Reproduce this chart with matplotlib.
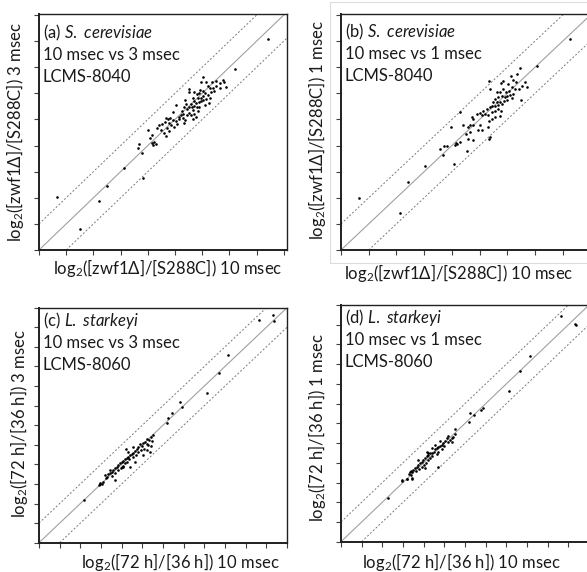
import matplotlib
matplotlib.use('Agg')
import matplotlib.pyplot as plt
from matplotlib import transforms

plt.rcParams['font.family'] = ['Lato', 'DejaVu Sans']
plt.rcParams['mathtext.fontset'] = 'custom'
plt.rcParams['mathtext.rm'] = 'Lato'
plt.rcParams['mathtext.it'] = 'Lato:italic'

# (a) S. cerevisiae, 10 msec vs 3 msec
a_x = [1.19, 0.49, 0.37, 0.76, 0.82, 0.67, 0.86, 0.66, 0.02, -0.04, 0.14, 0.20, 0.27, 0.41, 0.45,
       0.33, 0.51, -0.47, -0.50, -0.29, -0.20, -0.13, -0.08, 0.04, 0.12, 0.20, 0.04, -0.04, -0.17,
       -0.35, -0.29, -0.23, -0.13, -0.04, 0.02, 0.14, 0.27, 0.24, 0.12, -0.41, -0.47, -0.54, -0.38,
       -0.29, -0.20, -0.10, -0.35, -0.17, -0.62, -0.60, -0.66, -0.75, -0.70, -0.78, -0.84, -0.87,
       -0.72, -0.62, -0.54, -0.47, -0.41, -0.29, -0.23, -0.35, -0.66, -0.97, -1.09, -1.19, -1.24,
       -1.09, -0.97, -0.91, -1.03, -1.15, -1.22, -1.34, -1.36, -1.46, -1.28, -1.22, -1.40, -1.34,
       -1.52, -1.65, -1.59, -1.83, -1.93, -1.77, -1.71, -1.81, -1.86, -1.98, -2.33, -2.35, -2.23,
       2.43, -5.32, -4.48, -3.80, -3.51, -2.87, -2.19]
a_y = [0.94, 0.48, 0.43, 0.52, 0.43, 0.22, 0.26, 0.39, 0.64, 0.45, 0.43, 0.30, 0.20, 0.20, 0.09,
       0.04, 0.30, 0.17, 0.07, 0.07, -0.03, 0.00, 0.13, 0.09, 0.00, -0.06, -0.12, -0.19, -0.19,
       -0.19, -0.29, -0.38, -0.34, -0.31, -0.25, -0.21, -0.19, -0.38, -0.44, -0.42, -0.51, -0.60,
       -0.54, -0.47, -0.51, -0.51, -0.63, -0.67, -0.25, -0.42, -0.54, -0.67, -0.80, -0.83, -0.89,
       -0.98, -0.95, -1.02, -0.83, -0.76, -0.83, -0.80, -0.89, -0.98, -1.15, -0.44, -0.70, -0.93,
       -0.98, -1.02, -1.06, -1.18, -1.27, -1.21, -1.15, -0.95, -1.08, -1.18, -1.34, -1.46, -1.53,
       -1.62, -1.40, -1.34, -1.23, -1.59, -1.72, -1.87, -1.95, -1.98, -1.92, -1.40, -1.95, -2.08,
       -2.29, 2.09, -3.96, -5.21, -4.11, -3.53, -2.84, -3.25]

# (b) S. cerevisiae, 10 msec vs 1 msec
b_x = [1.08, 0.46, 0.36, 0.13, 0.19, 0.31, -0.14, -0.24, 0.04, 0.64, 0.70, 0.52, 0.44, 0.28, 0.16,
       0.07, -0.05, -0.17, -0.26, -0.38, -0.65, -0.62, 0.22, 0.10, 0.00, -0.08, -0.20, -0.32, -0.44,
       -0.50, -0.38, -0.26, -0.12, -0.02, 0.48, 0.16, -0.56, -0.44, -0.32, -0.20, -0.62, -0.74,
       -0.86, -0.98, -0.92, -0.80, -0.68, -0.56, -0.44, -0.32, -0.23, -0.65, -0.56, -1.23, -1.29,
       -1.11, -1.71, -0.92, -0.26, -0.44, -0.68, -0.62, -0.65, -0.98, -1.05, -1.35, -1.41, -1.59,
       -1.23, -1.35, -1.49, -1.71, -1.80, -1.89, -1.85, -2.04, -2.16, -2.28, -2.43, -1.41, -1.25,
       -1.47, -2.33, -1.92, -5.36, -3.88, -3.59, -2.96, 2.28]
b_y = [1.03, 0.99, 0.74, 0.65, 0.52, 0.45, 0.49, 0.40, 0.36, 0.42, 0.23, 0.27, 0.17, 0.17, 0.23,
       0.10, 0.07, 0.17, 0.07, 0.04, 0.49, 0.17, -0.02, -0.06, -0.09, -0.15, -0.09, -0.15, -0.21,
       -0.34, -0.34, -0.32, -0.28, -0.24, -0.24, -0.19, -0.47, -0.47, -0.44, -0.40, -0.53, -0.60,
       -0.66, -0.75, -0.82, -0.79, -0.82, -0.72, -0.66, -0.60, -0.66, -1.04, -0.98, -0.98, -0.91,
       -0.79, -0.72, -1.42, -0.85, -0.91, -1.30, -1.68, -1.74, -1.23, -1.42, -1.23, -1.30, -1.23,
       -1.23, -1.49, -1.55, -1.87, -1.93, -1.97, -1.89, -1.30, -2.00, -2.00, -2.12, -1.74, -1.77,
       -2.19, -2.38, -2.69, -4.00, -4.58, -3.39, -2.78, 2.08]

# (c) L. starkeyi, 10 msec vs 3 msec
c_x = [-0.47, -0.58, -0.66, -0.55, -0.76, -0.87, -0.79, -0.95, -0.71, -0.59, -1.03, -1.11, -1.19,
       -0.92, -1.08, -1.27, -1.35, -1.43, -1.19, -1.51, -1.30, -1.59, -1.68, -1.47, -1.76, -1.84,
       -1.63, -1.92, -2.00, -1.72, -2.08, -1.84, -2.16, -1.95, -2.24, -2.05, -2.32, -2.40, -2.16,
       -2.48, -2.56, -2.32, -2.64, -2.69, -2.48, -2.76, -2.80, -2.88, -3.05, -2.32, -1.80, -1.68,
       -1.35, -1.59, -1.92, -0.95, -0.63, -0.79, -1.47, -2.00, -2.56, -2.97, -3.08,
       5.34, 4.66, 5.39, 3.16, 2.69, 2.11, 0.82, 0.90, 0.42, 0.22, 0.17, -3.81, -3.05]
c_y = [-0.51, -0.62, -0.76, -0.79, -0.73, -0.85, -0.96, -0.93, -1.02, -1.07, -1.07, -0.96, -1.13,
       -1.19, -1.27, -1.24, -1.30, -1.41, -1.36, -1.47, -1.53, -1.53, -1.61, -1.64, -1.70, -1.75,
       -1.75, -1.81, -1.87, -1.87, -1.95, -1.95, -2.04, -2.09, -2.12, -2.21, -2.21, -2.29, -2.29,
       -2.38, -2.46, -2.43, -2.50, -2.63, -2.60, -2.72, -2.55, -2.89, -2.97, -2.80, -1.19, -1.36,
       -1.87, -2.12, -2.12, -1.53, -1.36, -1.27, -1.10, -2.12, -2.29, -3.01, -3.06,
       5.62, 5.36, 5.33, 3.58, 2.69, 1.62, 1.16, 0.91, 0.64, 0.38, 0.09, -3.82, -3.02]

# (d) L. starkeyi, 10 msec vs 1 msec
d_x = [-0.49, -0.57, -0.65, -0.81, -0.89, -0.73, -0.97, -0.84, -1.05, -0.62, -1.13, -1.21, -1.00,
       -1.29, -1.37, -1.13, -1.45, -1.49, -1.29, -1.58, -1.70, -1.37, -1.78, -1.62, -1.86, -1.45,
       -1.94, -1.70, -2.02, -1.81, -2.10, -1.91, -2.18, -1.97, -2.26, -2.34, -2.10, -2.42, -2.23,
       -1.94, -2.29, -2.50, -2.39, -2.58, -2.66, -2.62, -2.71, -2.83, -3.04, -2.55, -1.78, -1.21,
       -1.32, -1.86, -1.62,
       4.66, 5.31, 5.37, 3.13, 2.68, 2.11, 0.86, 0.79, 0.42, 0.26, 0.18, -0.50, -3.74, -3.05,
       -2.81, -2.56, -2.60]
d_y = [-0.53, -0.67, -0.75, -0.63, -0.75, -0.84, -0.87, -0.97, -1.00, -0.97, -1.09, -1.14, -1.17,
       -1.21, -1.26, -1.31, -1.31, -1.43, -1.43, -1.48, -1.51, -1.55, -1.60, -1.65, -1.68, -1.09,
       -1.77, -1.77, -1.85, -1.88, -1.94, -1.99, -2.02, -2.10, -2.10, -2.19, -2.22, -2.27, -2.32,
       -2.27, -1.88, -2.36, -2.44, -2.49, -2.49, -2.61, -2.56, -2.83, -2.90, -2.83, -1.51, -0.92,
       -2.19, -1.43, -1.26,
       5.42, 5.03, 5.00, 3.39, 2.63, 1.65, 0.77, 0.69, 0.40, 0.52, 0.09, -0.28, -3.80, -2.87,
       -2.82, -2.75, -2.41]

tag = ['(a)', '(b)', '(c)', '(d)']
species = ['S. cerevisiae', 'S. cerevisiae', 'L. starkeyi', 'L. starkeyi']
compare = ['10 msec vs 3 msec', '10 msec vs 1 msec', '10 msec vs 3 msec', '10 msec vs 1 msec']
instrument = ['LCMS-8040', 'LCMS-8040', 'LCMS-8060', 'LCMS-8060']
xlabels = ['log$_2$([zwf1Δ]/[S288C]) 10 msec', 'log$_2$([zwf1Δ]/[S288C]) 10 msec',
           'log$_2$([72 h]/[36 h]) 10 msec', 'log$_2$([72 h]/[36 h]) 10 msec']
ylabels = ['log$_2$([zwf1Δ]/[S288C]) 3 msec', 'log$_2$([zwf1Δ]/[S288C]) 1 msec',
           'log$_2$([72 h]/[36 h]) 3 msec', 'log$_2$([72 h]/[36 h]) 1 msec']

W, H = 587, 572
fig = plt.figure(figsize=(W / 100, H / 100), dpi=100)

# light frame around panel (b) (pasted image border)
fig.add_artist(plt.Rectangle((330 / W, 1 - 263 / H), 260 / W, 261 / H, transform=fig.transFigure,
                             fill=False, edgecolor='#dcdcdc', linewidth=0.8))

# left, right, top, bottom in pixels; limits; text offset; label centres (px)
boxes = [(39, 287.3, 14, 250), (341, 594, 14, 250), (39, 287, 307.7, 542.7), (341, 589, 305, 541.7)]
lims = [((-6, 3.13), (-6, 3.04)), ((-6, 3.13), (-6, 3.04)), ((-6, 6), (-6, 6)), ((-6, 6), (-6, 6))]
text_top = [24, 23, 18, 18]
xlab_pos = [(168, 268), (459, 273), (180, 562), (461, 562)]
ylab_pos = [(15, 132), (317, 130), (19, 423), (317, 427)]
data = [(a_x, a_y), (b_x, b_y), (c_x, c_y), (d_x, d_y)]

for i in range(4):
    l, r, t, b = boxes[i]
    ax = fig.add_axes([l / W, 1 - b / H, (r - l) / W, (b - t) / H])
    (x0, x1), (y0, y1) = lims[i]
    ax.set_xlim(x0, x1)
    ax.set_ylim(y0, y1)
    ax.set_xticks(range(-6, int(x1) + 1))
    ax.set_yticks(range(-6, int(y1) + 1))
    ax.tick_params(direction='out', length=3.5, width=0.8, labelbottom=False, labelleft=False,
                   color='#404040')
    for s in ax.spines.values():
        s.set_linewidth(1.0)
        s.set_color('#202020')
    ax.spines['left'].set_linewidth(1.4)
    ax.spines['bottom'].set_linewidth(1.4)

    ax.axline((0, 0), slope=1, color='#a0a0a0', lw=0.8, zorder=1)
    ax.axline((0, 1), slope=1, color='#7a7a7a', lw=0.7, ls=(0, (2, 2)), zorder=1)
    ax.axline((0, -1), slope=1, color='#7a7a7a', lw=0.7, ls=(0, (2, 2)), zorder=1)

    xs, ys = data[i]
    ax.scatter(xs, ys, s=3.5, marker='o', color='black', linewidths=0, zorder=3)

    sp = species[i].replace(' ', r'\ ')
    lines = [tag[i] + ' $\\mathit{' + sp + '}$', compare[i], instrument[i]]
    for k, txt in enumerate(lines):
        tr = transforms.offset_copy(ax.transAxes, fig, x=4, y=-(text_top[i] + 22 * k), units='dots')
        ax.text(0, 1, txt, transform=tr, fontsize=12, va='baseline', ha='left', color='#1a1a1a')

    xc, yc = xlab_pos[i]
    fig.text(xc / W, 1 - yc / H, xlabels[i], fontsize=12, ha='center', va='center', color='#1a1a1a')
    xc, yc = ylab_pos[i]
    fig.text(xc / W, 1 - yc / H, ylabels[i], fontsize=12, ha='center', va='center',
             rotation=90, color='#1a1a1a')

fig.savefig('out.png', dpi=100)
